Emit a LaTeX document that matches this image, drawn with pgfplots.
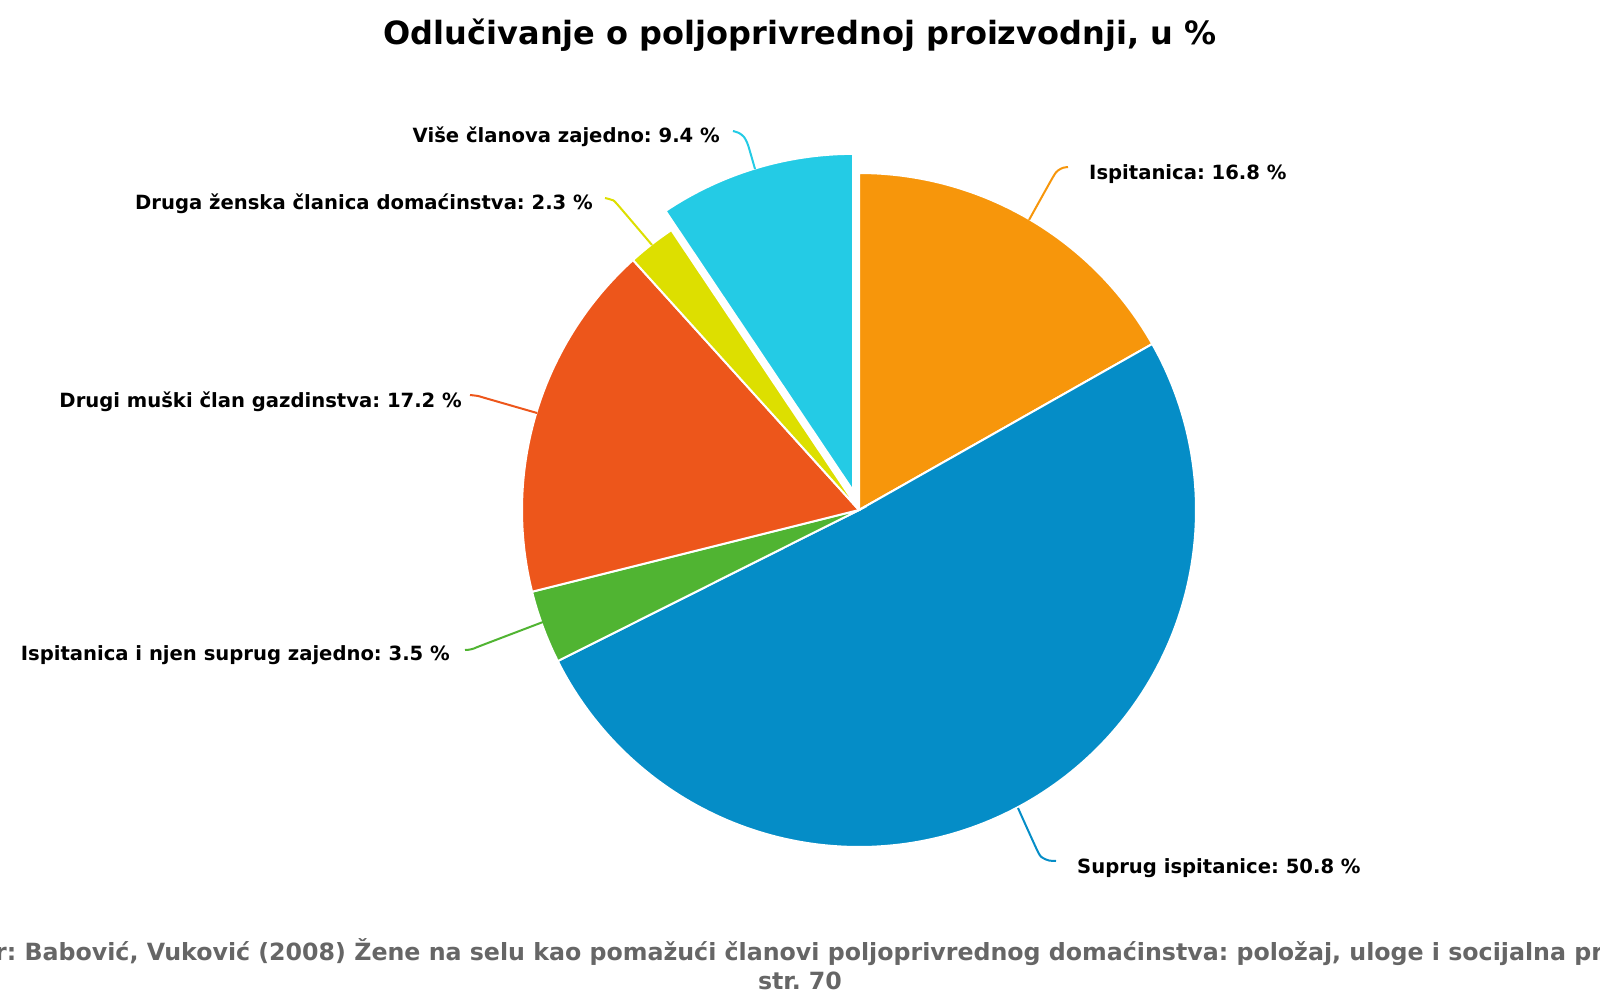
\documentclass[border=0pt]{standalone}
\usepackage{fontspec}
\setmainfont{DejaVu Sans}
\usepackage{pgfplots}
\pgfplotsset{compat=1.18}
\definecolor{cOrange}{HTML}{F7960B}
\definecolor{cBlue}{HTML}{058DC7}
\definecolor{cGreen}{HTML}{50B432}
\definecolor{cRed}{HTML}{ED561B}
\definecolor{cYellow}{HTML}{DDDF00}
\definecolor{cCyan}{HTML}{24CBE5}
\definecolor{cFoot}{HTML}{666666}
% data (percent)
\def\pA{16.8}% Ispitanica
\def\pB{50.8}% Suprug ispitanice
\def\pC{3.5}%  Ispitanica i njen suprug zajedno
\def\pD{17.2}% Drugi muski clan gazdinstva
\def\pE{2.3}%  Druga zenska clanica domacinstva
\def\pF{9.4}%  Vise clanova zajedno
\def\cx{859}\def\cy{510}\def\rr{337}
\pgfmathsetmacro\aO{90}
\pgfmathsetmacro\aA{\aO-3.6*\pA}
\pgfmathsetmacro\aB{\aA-3.6*\pB}
\pgfmathsetmacro\aC{\aB-3.6*\pC}
\pgfmathsetmacro\aD{\aC-3.6*\pD}
\pgfmathsetmacro\aE{\aD-3.6*\pE}
\pgfmathsetmacro\aF{\aE-3.6*\pF}
\pgfmathsetmacro\mF{(\aE+\aF)/2}
\pgfmathsetmacro\cxF{\cx+20*cos(\mF)}
\pgfmathsetmacro\cyF{\cy-20*sin(\mF)}
\frenchspacing
\begin{document}
\begin{tikzpicture}[x=1pt,y=1pt]
\useasboundingbox (0,0) rectangle (1600,1000);
\clip (0,0) rectangle (1600,1000);
\begin{axis}[at={(0,0)}, anchor=south west, width=1600pt, height=1000pt,
  scale only axis, xmin=0, xmax=1600, ymin=0, ymax=1000, y dir=reverse,
  enlargelimits=false, hide axis, clip=false]
% slices
\addplot[draw=white, line width=2pt, fill=cOrange, domain=\aA:\aO, samples=80, variable=\t]
  ({\cx+\rr*cos(\t)}, {\cy-\rr*sin(\t)}) -- (\cx,\cy) -- cycle;
\addplot[draw=white, line width=2pt, fill=cBlue, domain=\aB:\aA, samples=160, variable=\t]
  ({\cx+\rr*cos(\t)}, {\cy-\rr*sin(\t)}) -- (\cx,\cy) -- cycle;
\addplot[draw=white, line width=2pt, fill=cGreen, domain=\aC:\aB, samples=30, variable=\t]
  ({\cx+\rr*cos(\t)}, {\cy-\rr*sin(\t)}) -- (\cx,\cy) -- cycle;
\addplot[draw=white, line width=2pt, fill=cRed, domain=\aD:\aC, samples=80, variable=\t]
  ({\cx+\rr*cos(\t)}, {\cy-\rr*sin(\t)}) -- (\cx,\cy) -- cycle;
\addplot[draw=white, line width=2pt, fill=cYellow, domain=\aE:\aD, samples=20, variable=\t]
  ({\cx+\rr*cos(\t)}, {\cy-\rr*sin(\t)}) -- (\cx,\cy) -- cycle;
\addplot[draw=white, line width=2pt, fill=cCyan, domain=\aF:\aE, samples=50, variable=\t]
  ({\cxF+\rr*cos(\t)}, {\cyF-\rr*sin(\t)}) -- (\cxF,\cyF) -- cycle;
% connectors
\addplot[cOrange, line width=2pt, smooth, tension=0.4] coordinates {(1029,220) (1053,177) (1058,170.5) (1063,167.8) (1068,167)};
\addplot[cBlue, line width=2pt, smooth, tension=0.4] coordinates {(1018,808) (1038,852) (1043,858) (1049,860.5) (1056,861)};
\addplot[cGreen, line width=2pt, smooth, tension=0.4] coordinates {(543,622) (480,646) (474,648.5) (469,649.7) (465,650)};
\addplot[cRed, line width=2pt, smooth, tension=0.4] coordinates {(537,413) (485,398) (478,396) (470,395)};
\addplot[cYellow, line width=2pt, smooth, tension=0.4] coordinates {(652,245) (617,204) (612,200) (605,198)};
\addplot[cCyan, line width=2pt, smooth, tension=0.4] coordinates {(755,169) (748,145) (744,137) (739,133) (733,131)};
% labels
\begin{scope}[every node/.style={inner sep=0pt, font=\fontsize{19.6}{24}\selectfont\bfseries}]
\node[anchor=base west] at (axis cs:1089,180) {Ispitanica: 16.8 \%};
\node[anchor=base west] at (axis cs:1077,873) {Suprug ispitanice: 50.8 \%};
\node[anchor=base east] at (axis cs:450,660) {Ispitanica i njen suprug zajedno: 3.5 \%};
\node[anchor=base east] at (axis cs:462,407) {Drugi muški član gazdinstva: 17.2 \%};
\node[anchor=base east] at (axis cs:593,210) {Druga ženska članica domaćinstva: 2.3 \%};
\node[anchor=base east] at (axis cs:720,143) {Više članova zajedno: 9.4 \%};
\end{scope}
% title
\node[anchor=base, inner sep=0pt, font=\fontsize{32}{38}\selectfont\bfseries] at (axis cs:800,45)
  {Odlučivanje o poljoprivrednoj proizvodnji, u \%};
% footer
\node[anchor=base, inner sep=0pt, text=cFoot, font=\fontsize{23.7}{29}\selectfont\bfseries] at (axis cs:800,960)
  {Izvor: Babović, Vuković (2008) Žene na selu kao pomažući članovi poljoprivrednog domaćinstva: položaj, uloge i socijalna prava,};
\node[anchor=base, inner sep=0pt, text=cFoot, font=\fontsize{23.7}{29}\selectfont\bfseries] at (axis cs:800,989)
  {str. 70};
\end{axis}
\end{tikzpicture}
\end{document}
